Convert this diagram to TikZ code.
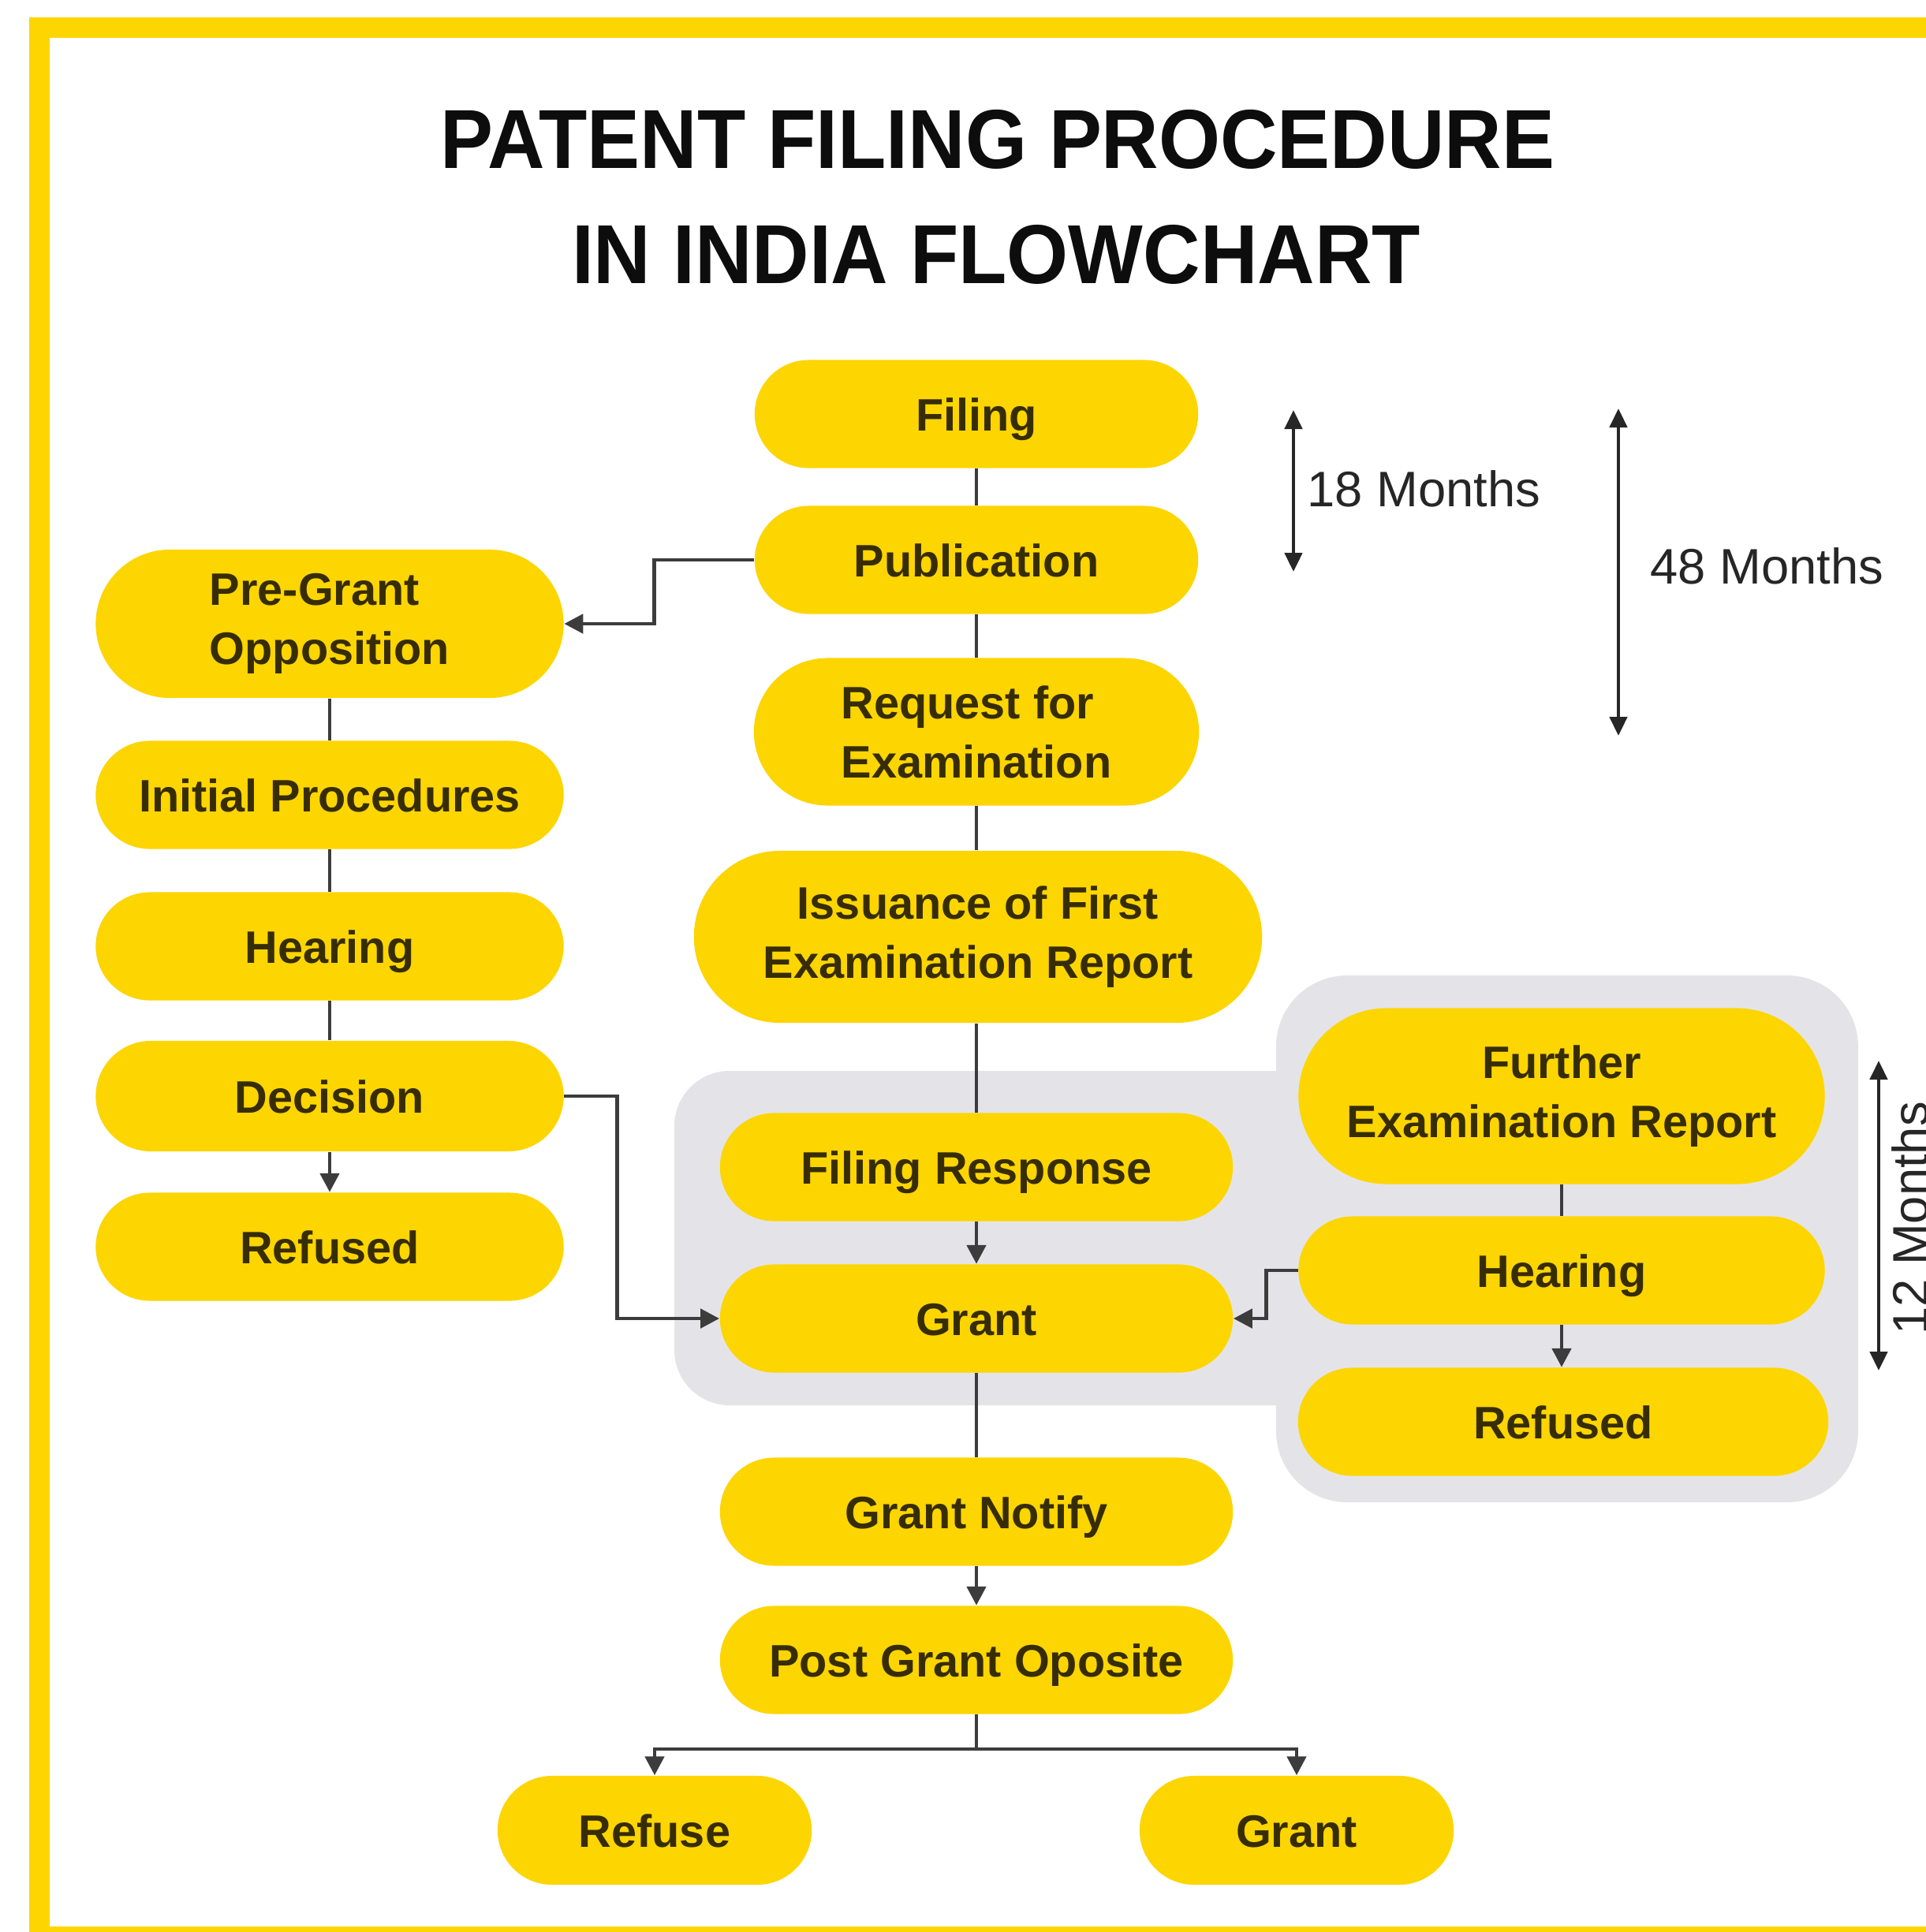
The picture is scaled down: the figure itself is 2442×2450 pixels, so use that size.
\documentclass[tikz,border=0pt]{standalone}
\usepackage{fontspec}
\setmainfont{Liberation Sans}
\usepackage{graphicx}
\usetikzlibrary{arrows.meta,shapes.misc}
\definecolor{yel}{RGB}{253,213,0}
\definecolor{bggray}{RGB}{228,228,232}
\definecolor{txt}{RGB}{55,45,5}
\definecolor{ln}{RGB}{60,60,60}
\begin{document}
\begin{tikzpicture}[x=0.01cm,y=-0.01cm,
 pill/.style={rounded rectangle, fill=yel, text=txt, inner sep=0pt, align=center,
   font=\fontsize{16.4}{21.3}\selectfont\bfseries, minimum height=1.37cm},
 one/.style={text height=12.4pt, text depth=0pt},
 conn/.style={draw=ln, line width=1.4pt},
 arr/.style={conn, -{Triangle[length=0.24cm,width=0.24cm]}},
 dimarrow/.style={draw=black!85, line width=1.3pt,
   {Triangle[length=0.24cm,width=0.22cm]}-{Triangle[length=0.24cm,width=0.22cm]}},
 note/.style={text=black!85, font=\fontsize{18}{22}\selectfont, inner sep=0pt},
 ttl/.style={text=black!95, font=\fontsize{30.2}{36}\selectfont\bfseries, inner sep=0pt, anchor=base}
]
\useasboundingbox (0,0) rectangle (2442,2450);
\fill[white] (0,0) rectangle (2442,2450);
\draw[yel, line width=0.26cm] (50,35) rectangle (2500,2456);

% grey backgrounds
\fill[bggray, rounded corners=0.7cm] (855,1358) rectangle (1700,1782);
\fill[bggray, rounded corners=0.9cm] (1618,1237) rectangle (2356,1905);

% title
\node[ttl] (title1) at (1265,213) {\scalebox{0.945}[1]{PATENT FILING PROCEDURE}};
\node[ttl] (title2) at (1263,359) {\scalebox{0.945}[1]{IN INDIA FLOWCHART}};

% centre column
\node[pill, one, minimum width=5.62cm] (filing) at (1238,525) {Filing};
\node[pill, one, minimum width=5.62cm] (pub) at (1238,710) {Publication};
\node[pill, minimum width=5.64cm, minimum height=1.87cm, align=left] (req) at (1238,928) {Request for\\Examination};
\node[pill, minimum width=7.2cm, minimum height=2.18cm] (fer) at (1240,1188) {Issuance of First\\Examination Report};
\node[pill, one, minimum width=6.5cm] (resp) at (1238,1480) {Filing Response};
\node[pill, one, minimum width=6.5cm] (grant) at (1238,1672) {Grant};
\node[pill, one, minimum width=6.5cm] (notify) at (1238,1917) {Grant Notify};
\node[pill, one, minimum width=6.5cm] (post) at (1238,2105) {Post Grant Oposite};
\node[pill, one, minimum width=3.98cm, minimum height=1.38cm] (refuse) at (830,2321) {Refuse};
\node[pill, one, minimum width=3.98cm, minimum height=1.38cm] (grant2) at (1644,2321) {Grant};

% left column
\node[pill, minimum width=5.93cm, minimum height=1.88cm, align=left] (pregrant) at (418,791) {Pre-Grant\\Opposition};
\node[pill, one, minimum width=5.93cm] (initial) at (418,1008) {Initial Procedures};
\node[pill, one, minimum width=5.93cm] (hear1) at (418,1200) {Hearing};
\node[pill, one, minimum width=5.93cm, minimum height=1.4cm] (decision) at (418,1390) {Decision};
\node[pill, one, minimum width=5.93cm] (refused1) at (418,1581) {Refused};

% right column
\node[pill, minimum width=6.67cm, minimum height=2.23cm] (further) at (1980,1390) {Further\\Examination Report};
\node[pill, one, minimum width=6.67cm] (hear2) at (1980,1611) {Hearing};
\node[pill, one, minimum width=6.72cm] (refused2) at (1982,1803) {Refused};

% connectors centre
\draw[conn] (filing.south) -- (pub.north);
\draw[conn] (pub.south) -- (req.north);
\draw[conn] (req.south) -- (fer.north -| req.south);
\draw[conn] (fer.south -| req.south) -- (resp.north);
\draw[arr] (resp.south) -- (grant.north);
\draw[conn] (grant.south) -- (notify.north);
\draw[arr] (notify.south) -- (post.north);
\coordinate (split) at (1238,2218);
\draw[conn] (post.south) -- (split);
\draw[arr] (split) -| (refuse.north);
\draw[arr] (split) -| (grant2.north);

% side branches
\draw[arr] (pub.west) -- ++(-127,0) |- (pregrant.east);
\draw[arr] (decision.east) -- ++(67,0) |- (grant.west);
\draw[arr] (hear2.west) -- ++(-40,0) |- (grant.east);

% left column
\draw[conn] (pregrant.south) -- (initial.north);
\draw[conn] (initial.south) -- (hear1.north);
\draw[conn] (hear1.south) -- (decision.north);
\draw[arr] (decision.south) -- (refused1.north);

% right column
\draw[conn] (further.south) -- (hear2.north);
\draw[arr] (hear2.south) -- (refused2.north -| hear2.south);

% durations
\coordinate (d18a) at (1640,520);
\coordinate (d18b) at (1640,725);
\draw[dimarrow] (d18a) -- (d18b);
\coordinate (d48a) at (2052,518);
\coordinate (d48b) at (2052,933);
\draw[dimarrow] (d48a) -- (d48b);
\coordinate (d12a) at (2382,1345);
\coordinate (d12b) at (2382,1738);
\draw[dimarrow] (d12a) -- (d12b);
\node[note, anchor=west] (l18) at (1657,620) {18 Months};
\node[note, anchor=west] (l48) at (2092,718) {48 Months};
\node[note, rotate=90, anchor=north] (l12) at (2398,1545) {12 Months};
\end{tikzpicture}
\end{document}
